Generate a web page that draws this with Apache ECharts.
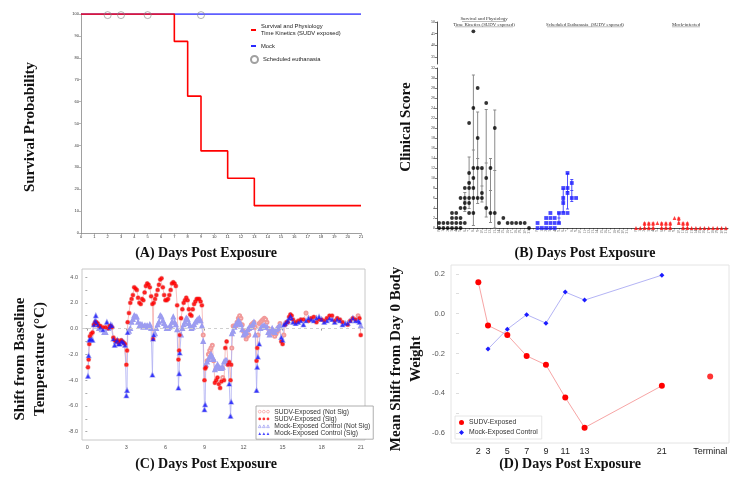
<!DOCTYPE html>
<html><head><meta charset="utf-8">
<script src="https://cdn.jsdelivr.net/npm/echarts@6/dist/echarts.min.js"></script>
<style>html,body{margin:0;padding:0;background:#fff}#c{width:741px;height:478px}</style>
</head><body><div id="c"></div>
<script>
// ---------- Panel A: survival ----------
const survDays = [0, 7, 8, 9, 11, 13, 21];
const survSudv = [100, 87.5, 62.5, 37.5, 25, 12.5, 12.5];
const mockSurvDays = [0, 21];
const mockSurv = [100, 100];
const euthDays = [2, 3, 5, 9];
const euthLevel = [99.5, 99.5, 99.5, 99.5];

// ---------- Panel B: clinical score ----------
const dayTicks = ['0','1','2','3','4','5','6','7','8','9','10','11','12','13','14','15','16','17','18','19','20','21'];
const clinKinetic = [[1,0],[1,0],[1,0],[3,2,1,0],[3,2,1,0],[6,4,2,1,0],[8,6,5,4,1],[21,11,9,8,6,5,3],[46,24,12,10,8,6,3],[28,18,12,6],[12,7,6],[25,10,4],[12,3],[20,3],[1],[2],[1],[1],[1],[1],[1],[0]];
const errKinetic = [null,null,null,null,null,null,[3.3,5.4,7.1],[3.9,9.2,14.2],[0.5,15.6,30.6],[4.9,13.9,23.2],[5.2,8.4,11.8],[2.2,13,23.7],[1.1,7.5,13.9],[0,11.5,23.6],null,null,null,null,null,null,null,null];
const clinSched = [[1,0],[0],[2,1,0],[3,2,1,0],[2,1,0],[3,1],[8,6,5,3],[11,8,7,3],[9,6],[6],[],[],[],[],[],[],[],[],[],[],[],[]];
const errSched = [null,null,null,null,null,[1,2,3],[3.2,5.5,7.8],[3.8,7.3,10.9],[5.3,7.5,9.7],null,null,null,null,null,null,null,null,null,null,null,null,null];
const clinMock = [[0],[0],[1,0],[1,0],[1,0],[1],[1,0],[1,0],[1,0],[2],[2,1],[1,0],[1,0],[0],[0],[0],[0],[0],[0],[0],[0],[0]];
const errMock = [null,null,[0,0.5,1],[0,0.5,1],[0,0.5,1],null,[0,0.5,1],[0,0.5,1],[0,0.5,1],null,[1,1.5,2],[0,0.5,1],[0,0.5,1],null,null,null,null,null,null,null,null,null];
const groupHeaders = ['Survival and Physiology\nTime Kinetics (SUDV exposed)', 'Scheduled Euthanasia  (SUDV exposed)', 'Mock-infected'];

// ---------- Panel C: temperature ----------
const tempDays = [0.05,0.1,0.15,0.2,0.3,0.4,0.5,0.6,0.65,0.7,0.8,0.9,1.0,1.1,1.2,1.3,1.4,1.5,1.6,1.7,1.8,1.9,2.0,2.1,2.2,2.3,2.4,2.5,2.6,2.7,2.8,2.9,
 3.0,3.05,3.1,3.2,3.3,3.4,3.5,3.6,3.7,3.8,3.9,4.0,4.1,4.2,4.3,4.4,4.5,4.6,4.7,4.8,4.9,
 5.0,5.05,5.1,5.2,5.3,5.4,5.5,5.6,5.7,5.8,5.9,6.0,6.1,6.2,6.3,6.4,6.5,6.6,6.7,6.8,6.9,
 7.0,7.05,7.1,7.2,7.3,7.4,7.5,7.6,7.7,7.8,7.9,8.0,8.1,8.2,8.3,8.4,8.5,8.6,8.7,8.8,8.9,
 9.0,9.05,9.1,9.2,9.3,9.4,9.5,9.6,9.7,9.8,9.9,10.0,10.1,10.2,10.3,10.4,10.5,10.6,10.7,10.8,10.9,
 11.0,11.05,11.1,11.2,11.3,11.4,11.5,11.6,11.7,11.8,11.9,12.0,12.1,12.2,12.3,12.4,12.5,12.6,12.7,12.8,12.9,
 13.0,13.05,13.1,13.2,13.3,13.4,13.5,13.6,13.7,13.8,13.9,14.0,14.1,14.2,14.3,14.4,14.5,14.6,14.7,14.8,14.9,
 15.0,15.1,15.2,15.3,15.4,15.5,15.6,15.7,15.8,16.0,16.2,16.4,16.6,16.8,17.0,17.2,17.4,17.6,17.8,18.0,18.2,18.4,18.6,18.8,
 19.0,19.2,19.4,19.6,19.8,20.0,20.2,20.4,20.6,20.8,20.9,21.0];
const sudvTemp = [-3.0,-2.4,-1.2,-0.6,-0.4,-0.3,0.3,0.5,0.4,0.5,0.4,0.2, 0.2,0.0,0.1,0.0,0.1,0.0,0.0,0.2,0.2,0.1, -0.7,-0.9,-1.0,-0.9,-1.1,-1.0,-0.9,-1.0,-1.1,-1.2,
 -2.8,-1.7,0.5,1.2,2.0,2.3,2.6,3.2,3.1,3.0,2.4,2.0,1.9,2.3,2.2,2.8,3.3,3.5,3.4,3.2,2.5,
 1.9,-0.8,2.0,2.3,2.6,3.0,3.4,3.8,3.9,3.2,2.6,2.2,2.2,2.3,2.6,3.0,3.5,3.6,3.5,3.3,1.8,
 -2.4,-1.7,-0.5,0.8,1.5,2.0,2.2,2.4,2.2,1.5,1.1,1.0,1.5,1.9,2.1,2.3,2.3,2.3,2.1,1.8,-0.5,
 -4.0,-3.1,-3.0,-2.5,-2.0,-1.7,-1.5,-1.3,-2.5,-4.2,-4.0,-3.8,-4.3,-4.6,-4.1,-3.8,-4.0,-1.5,-1.0,-2.8,-2.6,
 -4.0,-2.8,-1.5,0.2,0.2,0.2,0.5,0.8,1.0,0.8,0.3,-0.2,-0.5,-0.8,-0.6,-0.5,0.0,0.3,0.4,0.5,0.1,
 -2.5,-1.5,-0.5,0.4,0.5,0.6,0.7,0.8,0.7,0.5,0.0,-0.4,-0.2,-0.1,-0.4,-0.6,-0.4,-0.2,0.1,0.4,-1.0,
 -1.2,-0.5,0.3,0.5,0.5,0.9,1.1,1.0,0.7, 0.5,0.6,0.7,0.7,1.2, 0.6,0.8,0.9,0.5,0.7, 0.7,0.6,0.8,1.0,1.0,
 0.6,0.8,0.7,0.5,0.4, 0.3,0.6,0.8,0.7,1.0,0.8, -0.5];
const mockTemp = [-3.7,-2.1,-0.9,-0.8,-0.8,-0.9,0.3,0.6,1.0,0.5,0.3,0.0, 0.1,-0.1,-0.1,-0.3,-0.3,0.5,0.0,0.1,0.3,0.2, -0.8,-1.3,-1.0,-0.9,-1.2,-1.2,-1.0,-1.0,-1.1,-1.3,
 -5.2,-4.8,-0.3,-0.2,0.0,0.5,0.7,1.0,0.9,0.9,0.5,0.2,0.3,0.3,0.1,0.2,0.2,0.2,0.1,0.3,0.0,
 -3.6,-0.8,-0.5,-0.4,0.0,0.3,0.5,1.0,0.9,0.6,0.4,0.2,0.0,0.0,0.1,0.2,0.5,0.9,0.5,0.3,-0.1,
 -4.6,-3.5,-1.9,-0.5,0.0,0.3,0.5,0.8,0.7,0.4,0.2,0.0,0.1,0.3,0.5,0.6,0.7,0.8,0.6,0.2,-1.0,
 -6.3,-5.9,-2.8,-2.6,-2.4,-2.2,-2.0,-2.2,-2.4,-3.2,-3.0,-2.8,-3.0,-3.1,-3.1,-3.0,-2.6,-2.5,-2.5,-2.7,-4.3,
 -6.8,-5.7,-0.4,-0.2,0.1,0.3,0.4,0.6,0.5,0.3,-0.1,-0.5,-0.4,-0.3,-0.1,0.0,0.1,0.1,0.3,0.5,-0.5,
 -4.8,-3.0,-2.2,-1.2,0.0,0.1,0.2,0.2,0.1,0.1,-0.3,-0.5,-0.2,0.0,-0.2,-0.3,-0.1,0.0,0.1,0.2,-0.7,
 -0.9,0.3,0.4,0.5,0.6,0.8,1.0,0.8,0.5, 0.4,0.5,0.6,0.3,0.6, 0.8,0.7,0.6,0.8,0.9, 0.7,0.5,0.6,0.8,0.7,
 0.5,0.7,0.6,0.3,0.4, 0.4,0.6,0.8,0.6,0.6,0.5, 0.2];
const sudvSig = [1,1,1,1,1,1,1,1,1,1,1,1, 1,0,1,0,1,0,1,1,1,1, 1,1,1,1,1,1,1,1,1,1,
 1,1,1,1,1,1,1,1,1,1,1,1,1,1,1,1,1,1,1,1,1,
 1,1,1,1,1,1,1,1,1,1,1,1,1,1,1,1,1,1,1,1,1,
 1,1,1,1,1,1,1,1,1,1,1,1,1,1,1,1,1,1,1,1,0,
 1,1,1,0,0,0,0,0,0,1,1,1,1,1,1,0,1,1,1,1,1,
 1,1,0,0,0,0,0,0,0,0,0,0,0,0,0,0,0,0,0,0,0,
 1,1,0,0,0,0,0,0,0,0,0,0,0,0,0,0,0,0,0,0,1,
 1,0,1,1,1,1,1,1,1, 1,1,1,1,0, 1,1,1,1,1, 1,1,1,1,1,
 1,1,1,1,0, 1,1,1,1,0,1, 1];
const mockSig = [1,1,1,1,1,1,1,1,1,1,1,0, 1,0,1,0,0,1,0,1,1,1, 1,1,1,1,1,1,1,1,1,1,
 1,1,1,0,0,0,0,0,0,0,0,0,0,0,0,0,0,0,0,0,0,
 1,1,1,0,0,0,0,0,0,0,0,0,0,0,0,0,0,0,0,0,0,
 1,1,1,0,0,0,0,0,0,0,0,0,0,0,0,0,0,0,0,0,0,
 1,1,0,0,0,0,0,0,0,0,0,0,0,0,0,0,0,0,0,0,1,
 1,1,0,0,0,0,0,0,0,0,0,0,0,0,0,0,0,0,0,0,0,
 1,1,1,1,0,0,0,0,0,0,0,0,0,0,0,0,0,0,0,0,1,
 1,1,1,1,1,1,1,1,1, 1,1,1,1,1, 1,1,1,1,1, 1,1,1,1,1,
 1,1,1,1,1, 1,1,1,1,1,1, 0];
const tempTicks = [0, 3, 6, 9, 12, 15, 18, 21];
const tempYTicks = [-8, -6, -4, -2, 0, 2, 4];

// ---------- Panel D: weight ----------
const weightDaysSudv = [2, 3, 5, 7, 9, 11, 13, 21];
const weightSudv = [0.158, -0.059, -0.107, -0.212, -0.257, -0.421, -0.572, -0.362];
const terminalPos = 26;
const weightSudvTerminal = -0.315;
const weightDaysMock = [3, 5, 7, 9, 11, 13, 21];
const weightMock = [-0.178, -0.078, -0.005, -0.048, 0.108, 0.068, 0.193];
const weightTicks = [2, 3, 5, 7, 9, 11, 13, 21, 26];
const weightYTicks = [-0.6, -0.4, -0.2, 0.0, 0.2];

// ================= build =================
const SERIF = '"Liberation Serif","DejaVu Serif",serif';
const SANS = '"Liberation Sans",Arial,sans-serif';

const catNames = [], catLabels = [];
const groupOffsets = [];
[0,1,2].forEach(g => {
  if (g > 0) { catNames.push('gap' + g); catLabels.push(''); }
  groupOffsets.push(catNames.length);
  dayTicks.forEach(d => { catNames.push('g' + g + '_' + d); catLabels.push(d); });
});
function scatterPts(groupArr, off, filt) {
  const out = [];
  groupArr.forEach((vals, i) => vals.forEach(v => { if (filt(v)) out.push([off + i, v]); }));
  return out;
}
function errPts(arr, off) {
  const out = [];
  arr.forEach((e, i) => { if (e) out.push([off + i, e[0], e[1], e[2]]); });
  return out;
}
function errRender(color, lw) {
  return function (params, api) {
    const x = api.value(0);
    const lo = api.coord([x, api.value(1)]);
    const mid = api.coord([x, api.value(2)]);
    const hi = api.coord([x, api.value(3)]);
    const w = 1.5;
    const st = { stroke: color, lineWidth: lw };
    return { type: 'group', children: [
      { type: 'line', shape: { x1: lo[0], y1: lo[1], x2: hi[0], y2: hi[1] }, style: st },
      { type: 'line', shape: { x1: hi[0] - w, y1: hi[1], x2: hi[0] + w, y2: hi[1] }, style: st },
      { type: 'line', shape: { x1: lo[0] - w, y1: lo[1], x2: lo[0] + w, y2: lo[1] }, style: st },
      { type: 'line', shape: { x1: mid[0] - w, y1: mid[1], x2: mid[0] + w, y2: mid[1] }, style: st }
    ]};
  };
}

const sudvSigPts = [], mockSigPts = [];
tempDays.forEach((t, i) => {
  if (sudvSig[i]) sudvSigPts.push([t, sudvTemp[i]]);
  if (mockSig[i]) mockSigPts.push([t, mockTemp[i]]);
});

const circles3 = 'path://M0,2a2,2 0 1,0 4,0a2,2 0 1,0 -4,0M6,2a2,2 0 1,0 4,0a2,2 0 1,0 -4,0M12,2a2,2 0 1,0 4,0a2,2 0 1,0 -4,0';
const tri3 = 'path://M2,0L4,4L0,4ZM8,0L10,4L6,4ZM14,0L16,4L12,4Z';

const smallAxis = (fs, color) => ({
  axisLine: { show: true, lineStyle: { color: color || '#666', width: 0.8 } },
  axisTick: { show: true, length: 2, lineStyle: { color: color || '#666', width: 0.6 } },
  axisLabel: { fontSize: fs, color: '#333', margin: 2, fontFamily: SANS },
  splitLine: { show: false }
});

const RED = '#ff0000', BLUE = '#1c1cff';

const option = {
  animation: false,
  backgroundColor: '#fff',
  grid: [
    { left: 81, top: 14, width: 280, height: 219, outerBoundsMode: 'none' },
    { left: 437, top: 22, width: 291, height: 42, outerBoundsMode: 'none' },
    { left: 437, top: 68, width: 291, height: 160, outerBoundsMode: 'none' },
    { left: 82, top: 269, width: 283, height: 171, show: true, borderColor: '#c8c8c8', borderWidth: 1, outerBoundsMode: 'none' },
    { left: 451, top: 265, width: 278, height: 178, show: true, borderColor: '#e4e4e4', borderWidth: 1, outerBoundsMode: 'none' }
  ],
  xAxis: [
    Object.assign({ gridIndex: 0, type: 'value', min: 0, max: 21, interval: 1 }, smallAxis(4, '#888')),
    { gridIndex: 1, type: 'category', data: catNames, show: false },
    Object.assign({ gridIndex: 2, type: 'category', data: catNames }, smallAxis(3.5, '#222'), {
      axisTick: { show: true, length: 1.5, interval: 0, alignWithLabel: true, lineStyle: { color: '#222', width: 0.5 } },
      axisLabel: { fontSize: 3.5, color: '#555', rotate: 90, interval: 0, margin: 2, fontFamily: SERIF,
        formatter: (v, idx) => catLabels[idx] }
    }),
    { gridIndex: 3, type: 'value', min: -0.41, max: 21.33,
      axisLine: { show: false },
      axisTick: { show: true, length: 2, customValues: tempTicks, lineStyle: { color: '#999' } },
      axisLabel: { customValues: tempTicks, fontSize: 5.5, color: '#555', margin: 4, fontFamily: SANS },
      splitLine: { show: false } },
    { gridIndex: 4, type: 'value', min: -0.83, max: 27.95,
      axisLine: { show: false },
      axisTick: { show: false, customValues: weightTicks },
      axisLabel: { customValues: weightTicks, fontSize: 9, color: '#222', margin: 4, fontFamily: SANS,
        formatter: v => (v === terminalPos ? 'Terminal' : String(v)) },
      splitLine: { show: false } }
  ],
  yAxis: [
    Object.assign({ gridIndex: 0, type: 'value', min: 0, max: 100, interval: 10 }, smallAxis(4, '#888')),
    Object.assign({ gridIndex: 1, type: 'value', min: 32, max: 50 }, smallAxis(4, '#222'), {
      axisTick: { show: true, length: 2, customValues: [35, 40, 45, 50], lineStyle: { color: '#222', width: 0.6 } },
      axisLabel: { fontSize: 4, color: '#333', margin: 2, customValues: [35, 40, 45, 50], fontFamily: SERIF }
    }),
    Object.assign({ gridIndex: 2, type: 'value', min: 0, max: 32, interval: 2 }, smallAxis(4, '#222'), {
      axisLabel: { fontSize: 4, color: '#333', margin: 2, fontFamily: SERIF }
    }),
    { gridIndex: 3, type: 'value', min: -8.64, max: 4.62,
      axisLine: { show: false },
      axisTick: { show: true, length: 2, customValues: [-8,-7,-6,-5,-4,-3,-2,-1,0,1,2,3,4], lineStyle: { color: '#aaa' } },
      axisLabel: { customValues: tempYTicks, fontSize: 5.5, color: '#555', margin: 4, fontFamily: SANS, formatter: v => v.toFixed(1) },
      splitLine: { show: false } },
    { gridIndex: 4, type: 'value', min: -0.649, max: 0.244,
      axisLine: { show: false },
      axisTick: { show: true, length: 3, customValues: [-0.6,-0.5,-0.4,-0.3,-0.2,-0.1,0,0.1,0.2], lineStyle: { color: '#ddd' } },
      axisLabel: { customValues: weightYTicks, fontSize: 7.5, color: '#555', margin: 6, fontFamily: SANS, formatter: v => v.toFixed(1) },
      splitLine: { show: false } }
  ],
  legend: [
    { left: 251, top: 23, orient: 'vertical', itemWidth: 5, itemHeight: 2, icon: 'rect',
      textStyle: { fontSize: 5.8, color: '#222', fontFamily: SANS, lineHeight: 7 }, padding: 0, itemGap: 0,
      data: [{ name: 'Survival and Physiology\nTime Kinetics (SUDV exposed)' }] },
    { left: 251, top: 43, orient: 'vertical', itemWidth: 5, itemHeight: 2, icon: 'rect',
      textStyle: { fontSize: 5.8, color: '#222', fontFamily: SANS }, padding: 0,
      data: [{ name: 'Mock' }] },
    { left: 250, top: 55, orient: 'vertical', itemWidth: 7, itemHeight: 7, icon: 'circle',
      textStyle: { fontSize: 5.8, color: '#222', fontFamily: SANS }, padding: 0,
      data: [{ name: 'Scheduled euthanasia' }] },
    { left: 256, top: 406, orient: 'vertical', itemWidth: 11, itemHeight: 3.3, itemGap: 0,
      backgroundColor: '#fff', borderColor: '#9a9a9a', borderWidth: 0.8, padding: [2, 3, 2, 2],
      textStyle: { fontSize: 6.7, color: '#333', fontFamily: SANS, lineHeight: 7.3 },
      data: [
        { name: 'SUDV-Exposed (Not Sig)', icon: circles3, itemStyle: { color: '#fff', borderColor: '#f19a9a', borderWidth: 0.7 } },
        { name: 'SUDV-Exposed (Sig)', icon: circles3, itemStyle: { color: RED, borderWidth: 0 } },
        { name: 'Mock-Exposed Control (Not Sig)', icon: tri3, itemStyle: { color: '#fff', borderColor: '#9c9cf0', borderWidth: 0.7 } },
        { name: 'Mock-Exposed Control (Sig)', icon: tri3, itemStyle: { color: BLUE, borderWidth: 0 } }
      ] },
    { left: 455, top: 416, orient: 'vertical', itemWidth: 5, itemHeight: 5, itemGap: 3,
      borderColor: '#e0e0e0', borderWidth: 0.8, padding: [3, 4, 3, 4],
      textStyle: { fontSize: 6.8, color: '#333', fontFamily: SANS },
      data: [{ name: 'SUDV-Exposed', icon: 'circle' }, { name: 'Mock-Exposed Control', icon: 'diamond' }] }
  ],
  series: [
    // Panel A
    { name: 'Mock', type: 'line', xAxisIndex: 0, yAxisIndex: 0, showSymbol: false,
      data: mockSurvDays.map((d, i) => [d, mockSurv[i]]),
      lineStyle: { color: '#2a2aff', width: 1.6 }, itemStyle: { color: '#2a2aff' } },
    { name: 'Survival and Physiology\nTime Kinetics (SUDV exposed)', type: 'line', step: 'end', xAxisIndex: 0, yAxisIndex: 0, showSymbol: false,
      data: survDays.map((d, i) => [d, survSudv[i]]),
      lineStyle: { color: RED, width: 1.6 }, itemStyle: { color: RED } },
    { name: 'Scheduled euthanasia', type: 'scatter', xAxisIndex: 0, yAxisIndex: 0, symbol: 'circle', symbolSize: 7, z: 5,
      data: euthDays.map((d, i) => [d, euthLevel[i]]),
      itemStyle: { color: 'rgba(255,255,255,0)', borderColor: '#888', borderWidth: 0.8 } },

    // Panel B error bars
    { type: 'custom', xAxisIndex: 2, yAxisIndex: 2, renderItem: errRender('#8a8a8a', 1), data: errPts(errKinetic, groupOffsets[0]), silent: true, clip: false },
    { type: 'custom', xAxisIndex: 2, yAxisIndex: 2, renderItem: errRender('#3a3aff', 0.9), data: errPts(errSched, groupOffsets[1]), silent: true, clip: false },
    { type: 'custom', xAxisIndex: 2, yAxisIndex: 2, renderItem: errRender('#ff2020', 0.7), data: errPts(errMock, groupOffsets[2]), silent: true, clip: false },
    // Panel B points
    { type: 'scatter', xAxisIndex: 2, yAxisIndex: 2, symbol: 'circle', symbolSize: 3.8, z: 4, itemStyle: { color: '#000' },
      data: scatterPts(clinKinetic, groupOffsets[0], v => v <= 32) },
    { type: 'scatter', xAxisIndex: 1, yAxisIndex: 1, symbol: 'circle', symbolSize: 3.8, z: 4, itemStyle: { color: '#000' },
      data: scatterPts(clinKinetic, groupOffsets[0], v => v > 32) },
    { type: 'scatter', xAxisIndex: 2, yAxisIndex: 2, symbol: 'rect', symbolSize: 3.8, z: 4, itemStyle: { color: '#1a1aff' },
      data: scatterPts(clinSched, groupOffsets[1], v => true) },
    { type: 'scatter', xAxisIndex: 2, yAxisIndex: 2, symbol: 'triangle', symbolSize: 3.8, z: 4, itemStyle: { color: '#ff1010' },
      data: scatterPts(clinMock, groupOffsets[2], v => true) },

    // Panel C
    { name: 'SUDV-Exposed (Not Sig)', type: 'line', xAxisIndex: 3, yAxisIndex: 3, symbol: 'emptyCircle', symbolSize: 3, z: 2,
      data: tempDays.map((t, i) => [t, sudvTemp[i]]),
      lineStyle: { color: '#f5b0b0', width: 0.8 }, itemStyle: { color: '#f19a9a', borderWidth: 0.6 },
      markLine: { silent: true, symbol: 'none', label: { show: false }, lineStyle: { color: '#cfcfcf', type: [3, 3], width: 1 },
        data: [{ yAxis: 0 }] } },
    { name: 'Mock-Exposed Control (Not Sig)', type: 'line', xAxisIndex: 3, yAxisIndex: 3, symbol: 'emptyTriangle', symbolSize: 3, z: 2,
      data: tempDays.map((t, i) => [t, mockTemp[i]]),
      lineStyle: { color: '#aeaef2', width: 0.8 }, itemStyle: { color: '#9c9cf0', borderWidth: 0.6 } },
    { name: 'SUDV-Exposed (Sig)', type: 'scatter', xAxisIndex: 3, yAxisIndex: 3, symbol: 'circle', symbolSize: 3.8, z: 6,
      data: sudvSigPts, itemStyle: { color: RED } },
    { name: 'Mock-Exposed Control (Sig)', type: 'scatter', xAxisIndex: 3, yAxisIndex: 3, symbol: 'triangle', symbolSize: 4, z: 7,
      data: mockSigPts, itemStyle: { color: BLUE } },

    // Panel D
    { name: 'SUDV-Exposed', type: 'line', xAxisIndex: 4, yAxisIndex: 4, symbol: 'circle', symbolSize: 6,
      data: weightDaysSudv.map((d, i) => [d, weightSudv[i]]),
      lineStyle: { color: '#f7a5a5', width: 1 }, itemStyle: { color: RED } },
    { name: 'SUDV-Exposed', type: 'scatter', xAxisIndex: 4, yAxisIndex: 4, symbol: 'circle', symbolSize: 6,
      data: [[terminalPos, weightSudvTerminal]], itemStyle: { color: RED } },
    { name: 'Mock-Exposed Control', type: 'line', xAxisIndex: 4, yAxisIndex: 4, symbol: 'diamond', symbolSize: 5,
      data: weightDaysMock.map((d, i) => [d, weightMock[i]]),
      lineStyle: { color: '#b4b4f5', width: 1 }, itemStyle: { color: BLUE } }
  ],
  graphic: [
    { type: 'text', x: 30, y: 127, rotation: Math.PI / 2,
      style: { text: 'Survival Probability', font: 'bold 15px ' + SERIF, fill: '#111', align: 'center', verticalAlign: 'middle', textAlign: 'center', textVerticalAlign: 'middle' } },
    { type: 'text', x: 406, y: 127, rotation: Math.PI / 2,
      style: { text: 'Clinical Score', font: 'bold 15px ' + SERIF, fill: '#111', align: 'center', verticalAlign: 'middle', textAlign: 'center', textVerticalAlign: 'middle' } },
    { type: 'text', x: 30, y: 359, rotation: Math.PI / 2,
      style: { text: 'Shift from Baseline\nTemperature (°C)', font: 'bold 15px ' + SERIF, lineHeight: 20, fill: '#111', align: 'center', verticalAlign: 'middle', textAlign: 'center', textVerticalAlign: 'middle' } },
    { type: 'text', x: 406, y: 359, rotation: Math.PI / 2,
      style: { text: 'Mean Shift from Day 0 Body\nWeight', font: 'bold 15px ' + SERIF, lineHeight: 20, fill: '#111', align: 'center', verticalAlign: 'middle', textAlign: 'center', textVerticalAlign: 'middle' } },
    { type: 'text', x: 206, y: 253, style: { text: '(A) Days Post Exposure', font: 'bold 14px ' + SERIF, fill: '#111', align: 'center', verticalAlign: 'middle', textAlign: 'center', textVerticalAlign: 'middle' } },
    { type: 'text', x: 585, y: 253, style: { text: '(B) Days Post Exposure', font: 'bold 14px ' + SERIF, fill: '#111', align: 'center', verticalAlign: 'middle', textAlign: 'center', textVerticalAlign: 'middle' } },
    { type: 'text', x: 206, y: 464, style: { text: '(C) Days Post Exposure', font: 'bold 14px ' + SERIF, fill: '#111', align: 'center', verticalAlign: 'middle', textAlign: 'center', textVerticalAlign: 'middle' } },
    { type: 'text', x: 570, y: 464, style: { text: '(D) Days Post Exposure', font: 'bold 14px ' + SERIF, fill: '#111', align: 'center', verticalAlign: 'middle', textAlign: 'center', textVerticalAlign: 'middle' } },
    { type: 'text', x: 484, y: 21.7, style: { text: groupHeaders[0], font: '4.8px ' + SERIF, lineHeight: 5.3, fill: '#333', align: 'center', verticalAlign: 'middle', textAlign: 'center', textVerticalAlign: 'middle' } },
    { type: 'text', x: 585, y: 24.3, style: { text: groupHeaders[1], font: '4.8px ' + SERIF, fill: '#333', align: 'center', verticalAlign: 'middle', textAlign: 'center', textVerticalAlign: 'middle' } },
    { type: 'text', x: 686, y: 24.3, style: { text: groupHeaders[2], font: '4.8px ' + SERIF, fill: '#333', align: 'center', verticalAlign: 'middle', textAlign: 'center', textVerticalAlign: 'middle' } },
    { type: 'line', shape: { x1: 462, y1: 21.5, x2: 506, y2: 21.5 }, style: { stroke: '#555', lineWidth: 0.4 } },
    { type: 'line', shape: { x1: 455, y1: 26.8, x2: 513, y2: 26.8 }, style: { stroke: '#555', lineWidth: 0.4 } },
    { type: 'line', shape: { x1: 547, y1: 26.8, x2: 623, y2: 26.8 }, style: { stroke: '#555', lineWidth: 0.4 } },
    { type: 'line', shape: { x1: 672, y1: 26.8, x2: 700, y2: 26.8 }, style: { stroke: '#555', lineWidth: 0.4 } }
  ]
};

const chart = echarts.init(document.getElementById('c'), null, { renderer: 'canvas' });
chart.setOption(option);
</script>
</body></html>
